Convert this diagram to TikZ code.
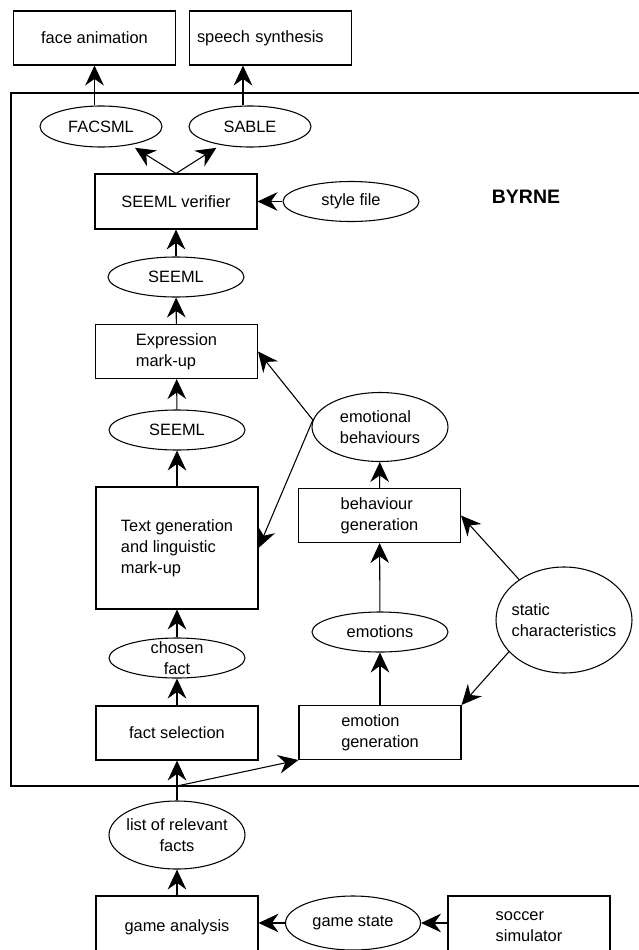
\documentclass[tikz,border=0pt]{standalone}
\usepackage{fontspec}
\setmainfont{Liberation Sans}
\usetikzlibrary{shapes.geometric,arrows.meta}

\begin{document}
\begin{tikzpicture}[x=0.75pt,y=-0.75pt,
  every node/.style={font=\fontsize{12.3}{15.75}\selectfont},
  box/.style={draw,line width=0.8pt,minimum width=121.5pt,minimum height=40.5pt,inner sep=0pt,align=left},
  oval/.style={draw,ellipse,line width=0.8pt,inner sep=0pt,minimum width=102pt,minimum height=30pt,align=left},
  arr/.style={line width=0.8pt,-{Stealth[length=15pt,width=14pt,inset=5pt]}}]
\useasboundingbox (0,0) rectangle (639,950);
\draw[line width=0.8pt] (11,93) rectangle (660,786);
\node[font=\fontsize{14.6}{17}\selectfont\bfseries] (byrne) at (526,197) {BYRNE};

\node[box] (face) at (94.5,38) {face animation};
\node[box,text width=110.25pt] (speech) at (270.5,38) {speech synthesis};
\node[oval,minimum width=91.5pt,minimum height=30.75pt] (facsml) at (101,126.5) {FACSML};
\node[oval,minimum width=91.5pt,minimum height=30.75pt] (sable) at (250,126.5) {SABLE};
\node[box,minimum height=41.25pt] (verifier) at (176,201.5) {SEEML verifier};
\node[oval] (style) at (351,201.5) {style file};
\node[oval] (seeml) at (176,277) {SEEML};
\node[box] (expr) at (176.5,351.5) {Expression\\mark-up};
\node[oval] (seemlb) at (177,430) {SEEML};
\node[box,minimum height=91.5pt] (textgen) at (177,548) {Text generation\\and linguistic\\mark-up};
\node[oval,minimum height=51.75pt] (emobeh) at (380,427) {emotional\\behaviours};
\node[box] (behgen) at (379.5,515.5) {behaviour\\generation};
\node[oval] (emotions) at (380,632) {emotions};
\node[oval,minimum height=79.5pt,inner xsep=-4pt] (static) at (564,620) {static\\characteristics};
\node[oval,inner ysep=-5pt,align=center] (chosen) at (177,658) {chosen\\fact};
\node[box] (emogen) at (380,732.5) {emotion\\generation};
\node[box] (factsel) at (177,733) {fact selection};
\coordinate (fork) at (177,786);
\node[oval,minimum height=51pt,inner xsep=-3pt,align=center] (facts) at (177,835) {list of relevant\\facts};
\node[box,minimum height=46.5pt] (game) at (177,927) {game analysis};
\node[oval,minimum width=101.25pt,minimum height=40.5pt] (state) at (353,923) {game state};
\node[box,minimum height=46.5pt] (soccer) at (529,927) {soccer\\simulator};

\coordinate (sabletop) at ([xshift=-5.25pt]sable.north);
\draw[arr] (face.south |- facsml.north) -- (face.south);
\draw[arr] (sabletop) -- (sabletop |- speech.south);
\draw[arr,shorten >=4pt] (verifier.north) -- (facsml);
\draw[arr,shorten >=4pt] (verifier.north) -- (sable);
\draw[arr] (style) -- (verifier);
\draw[arr] (seeml) -- (verifier);
\draw[arr] (expr) -- (seeml);
\draw[arr] (seemlb) -- (expr);
\draw[arr] (textgen) -- (seemlb);
\draw[arr] (emobeh.174) -- (expr.east);
\draw[arr] (emobeh.174) -- (textgen.east);
\draw[arr] (behgen) -- (emobeh);
\draw[arr] (emotions) -- (behgen);
\draw[arr] (static.138) -- (behgen.east);
\draw[arr] (static.210) -- (emogen.north east);
\draw[arr] (emogen) -- (emotions);
\draw[arr] (chosen) -- (textgen);
\draw[arr] (factsel) -- (chosen);
\draw[arr] (facts) -- (factsel);
\draw[arr] (fork) -- (emogen.south west);
\draw[arr] (game) -- (facts);
\draw[arr] (state) -- (state -| game.east);
\draw[arr] (soccer.west |- state) -- (state);
\end{tikzpicture}
\end{document}
